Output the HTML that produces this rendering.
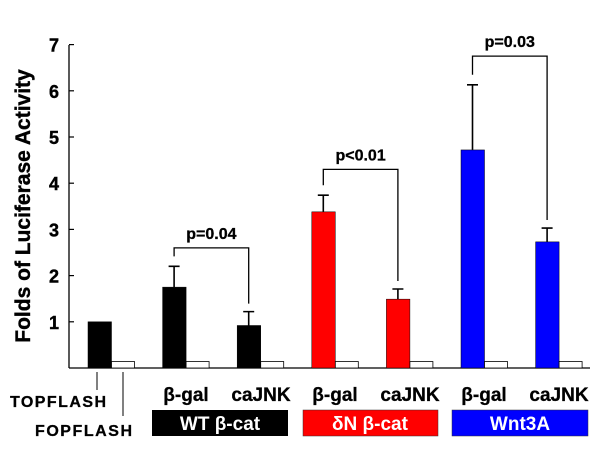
<!DOCTYPE html>
<html><head><meta charset="utf-8"><style>
body{margin:0;background:#fff;}
svg text{font-family:"Liberation Sans",Arial,sans-serif;font-weight:bold;}
</style></head><body>
<svg id="chart" width="600" height="448" viewBox="0 0 600 448" xmlns="http://www.w3.org/2000/svg">
<g id="axes"></g>
<g id="bars"></g>
<g id="sig"></g>
<text transform="translate(30,206) rotate(-90)" text-anchor="middle" font-size="21" stroke="#000" stroke-width="0.4">Folds of Luciferase Activity</text>
<g font-size="19" text-anchor="middle" stroke="#000" stroke-width="0.3">
<text x="186" y="401">β-gal</text><text x="261" y="401">caJNK</text>
<text x="335" y="401">β-gal</text><text x="410" y="401">caJNK</text>
<text x="484" y="401">β-gal</text><text x="559" y="401">caJNK</text>
</g>
<text x="10" y="407" font-size="16" textLength="96" stroke="#000" stroke-width="0.3">TOPFLASH</text>
<text x="35" y="436" font-size="16" textLength="97" stroke="#000" stroke-width="0.3">FOPFLASH</text>
<line x1="97" y1="372" x2="97" y2="390" stroke="#000" stroke-width="1"/>
<line x1="123" y1="372" x2="123" y2="416" stroke="#000" stroke-width="1"/>
<rect x="152" y="410" width="136" height="26" fill="#000"/>
<text x="220" y="430" fill="#fff" font-size="19" text-anchor="middle">WT β-cat</text>
<rect x="303" y="410" width="135" height="26" fill="#f00" stroke="#333" stroke-width="0.5"/>
<text x="370" y="430" fill="#fff" font-size="19" text-anchor="middle">δN β-cat</text>
<rect x="452" y="410" width="136" height="26" fill="#00f" stroke="#333" stroke-width="0.5"/>
<text x="520" y="430" fill="#fff" font-size="19" text-anchor="middle">Wnt3A</text>
</svg>
<script>
const categories=["TOPFLASH","WT β-gal","WT caJNK","δN β-gal","δN caJNK","Wnt3A β-gal","Wnt3A caJNK"];
const topValues=[1,1.75,0.92,3.38,1.49,4.72,2.73];
const errTops=[null,2.2,1.22,3.74,1.71,6.13,3.03];
const fopValues=[0.14,0.14,0.14,0.14,0.14,0.14,0.14];
const colors=["#000","#000","#000","#f00","#f00","#00f","#00f"];
const yTicks=[1,2,3,4,5,6,7];
const pLabels=["p=0.04","p<0.01","p=0.03"];
const pLevels=[2.6,4.3,6.75];
const NS="http://www.w3.org/2000/svg";
const y=v=>368-v*46.2;
const xb=i=>88+i*74.6;
function mk(tag,attrs,parent){const e=document.createElementNS(NS,tag);for(const k in attrs)e.setAttribute(k,attrs[k]);parent.appendChild(e);return e;}
const ax=document.getElementById('axes'),bars=document.getElementById('bars'),sig=document.getElementById('sig');
let l=mk('line',{x1:69,y1:45,x2:69,y2:368,stroke:'#000','stroke-width':1.3},ax);

l=mk('line',{x1:69,y1:368,x2:590,y2:368,stroke:'#000','stroke-width':1.3},ax);

yTicks.forEach(t=>{
 let tk=mk('line',{x1:69,x2:74,y1:y(t),y2:y(t),stroke:'#000','stroke-width':1.2},ax);
 
 let tx=mk('text',{x:59,y:y(t)+7,'text-anchor':'end','font-size':18,stroke:'#000','stroke-width':0.4},ax);tx.textContent=t;
 
});
categories.forEach((c,i)=>{
 const x=xb(i);
 if(errTops[i]!==null){
  let e=mk('path',{d:`M${x+11.5},${y(topValues[i])}V${y(errTops[i])}M${x+6},${y(errTops[i])}H${x+17}`,stroke:'#000','stroke-width':1.6,fill:'none'},bars);
  
 }
 let r=mk('rect',{x:x,y:y(topValues[i]),width:23.5,height:topValues[i]*46.2,fill:colors[i],stroke:'#000','stroke-width':0.5},bars);
 
 let f=mk('rect',{x:x+23.5,y:y(fopValues[i]),width:23,height:fopValues[i]*46.2,fill:'#fff',stroke:'#000','stroke-width':0.8},bars);
 
});
pLabels.forEach((p,k)=>{
 const a=1+2*k,b=2+2*k;
 const xa=xb(a)+11.5,xbb=xb(b)+11.5,yl=y(pLevels[k]);
 let br=mk('path',{d:`M${xa},${y(errTops[a])-10}V${yl}H${xbb}V${y(errTops[b])-8}`,stroke:'#000','stroke-width':1.3,fill:'none'},sig);
 
 let t=mk('text',{x:(xa+xbb)/2,y:yl-9,'text-anchor':'middle','font-size':16,stroke:'#000','stroke-width':0.3},sig);t.textContent=p;
 
});
</script>
</body></html>
